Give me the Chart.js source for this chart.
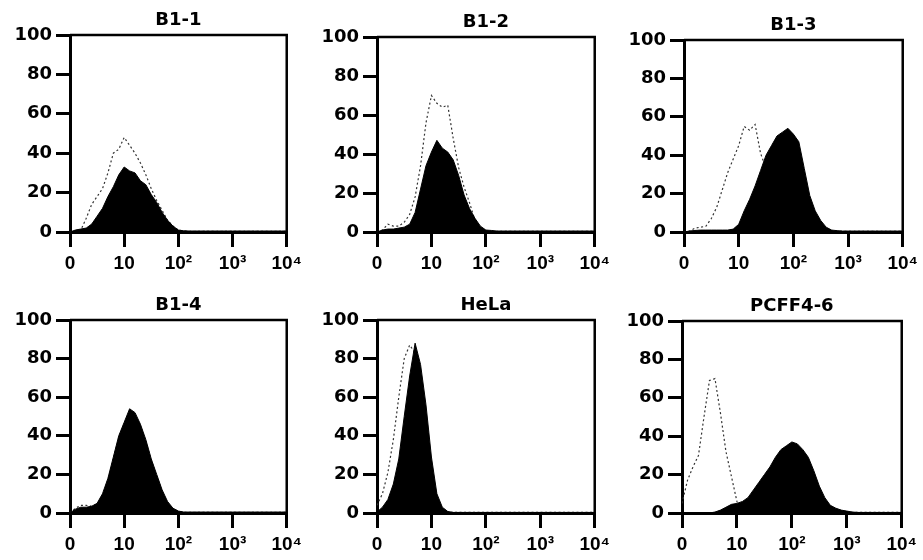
<!DOCTYPE html>
<html>
<head>
<meta charset="utf-8">
<script src="https://cdn.jsdelivr.net/npm/chart.js@4.4.0/dist/chart.umd.min.js"></script>
<style>
  body { margin: 0; background: #fff; }
  #wrap { position: relative; width: 923px; height: 560px; overflow: hidden; background: #fff; }
  #wrap canvas { position: absolute; }
</style>
</head>
<body>
<div id="wrap"></div>
<script>
// fluorescence intensity, in decades (0 = 10^0 ... 4 = 10^4)
const decades = [0, 0.1, 0.2, 0.3, 0.4, 0.5, 0.6, 0.7, 0.8, 0.9,
                 1, 1.1, 1.2, 1.3, 1.4, 1.5, 1.6, 1.7, 1.8, 1.9,
                 2, 2.1, 2.2, 2.3, 2.4, 2.5, 2.6, 2.7, 2.8, 2.9,
                 3, 3.1, 3.2, 3.3, 3.4, 3.5, 3.6, 3.7, 3.8, 3.9, 4];
const xTickLabels = ['0', '10', '10²', '10³', '10⁴'];
const titles = ['B1-1', 'B1-2', 'B1-3', 'B1-4', 'HeLa', 'PCFF4-6'];

// filled = stained cells, dotted = control
const b11Filled = [0, 1, 1.5, 2, 4, 8, 12, 18, 23, 29, 33, 31, 30, 26, 24, 19, 15, 10, 6, 3,
                   1, 0.6, 0.5, 0.5, 0.5, 0.5, 0.5, 0.5, 0.5, 0.5, 0.5, 0.5, 0.5, 0.5, 0.5, 0.5, 0.5, 0.5, 0.5, 0.5, 0.5];
const b11Dotted = [0, 0.5, 1, 7, 14, 18, 22, 30, 40, 42, 48, 44, 40, 35, 29, 22, 16, 11, 6, 3,
                   1, 0.5, 0.3, 0.3, 0.3, 0.3, 0.3, 0.3, 0.3, 0.3, 0.3, 0.3, 0.3, 0.3, 0.3, 0.3, 0.3, 0.3, 0.3, 0.3, 0.3];
const b12Filled = [0, 1, 1.5, 1.5, 2, 2.5, 4, 10, 22, 34, 41, 47, 43, 41, 37, 29, 19, 12, 7, 3,
                   1, 0.8, 0.5, 0.5, 0.5, 0.5, 0.5, 0.5, 0.5, 0.5, 0.5, 0.5, 0.5, 0.5, 0.5, 0.5, 0.5, 0.5, 0.5, 0.5, 0.5];
const b12Dotted = [0, 1, 4, 3, 3, 5, 9, 18, 34, 56, 70, 66, 64, 65, 48, 33, 23, 15, 6, 2,
                   0.5, 0.3, 0.3, 0.3, 0.3, 0.3, 0.3, 0.3, 0.3, 0.3, 0.3, 0.3, 0.3, 0.3, 0.3, 0.3, 0.3, 0.3, 0.3, 0.3, 0.3];
const b13Filled = [0, 0.5, 0.8, 1, 1, 1, 1, 1, 1, 1.5, 4, 11, 17, 24, 32, 40, 45, 50, 52, 54,
                   51, 47, 33, 19, 11, 6, 2.5, 1, 0.7, 0.5, 0.5, 0.5, 0.5, 0.5, 0.5, 0.5, 0.5, 0.5, 0.5, 0.5, 0.5];
const b13Dotted = [0, 0.5, 2, 2.5, 3, 7, 13, 22, 31, 38, 45, 55, 53, 56, 41, 33, 22, 14, 7, 3,
                   1, 0.3, 0.3, 0.3, 0.3, 0.3, 0.3, 0.3, 0.3, 0.3, 0.3, 0.3, 0.3, 0.3, 0.3, 0.3, 0.3, 0.3, 0.3, 0.3, 0.3];
const b14Filled = [0, 2, 3, 3, 3.5, 5, 10, 18, 29, 40, 47, 54, 52, 46, 38, 28, 20, 12, 6, 2.5,
                   1, 0.5, 0.5, 0.5, 0.5, 0.5, 0.5, 0.5, 0.5, 0.5, 0.5, 0.5, 0.5, 0.5, 0.5, 0.5, 0.5, 0.5, 0.5, 0.5, 0.5];
const b14Dotted = [0, 2.5, 4, 4, 3.5, 4.5, 9, 17, 28, 39, 46, 52, 50, 45, 37, 27, 19, 11, 5, 2,
                   0.8, 0.3, 0.3, 0.3, 0.3, 0.3, 0.3, 0.3, 0.3, 0.3, 0.3, 0.3, 0.3, 0.3, 0.3, 0.3, 0.3, 0.3, 0.3, 0.3, 0.3];
const helaFilled = [0.5, 3, 7, 15, 28, 50, 71, 88, 77, 56, 29, 10, 3, 0.8, 0.3, 0.3, 0.3, 0.3, 0.3, 0.3,
                    0.3, 0.3, 0.3, 0.3, 0.3, 0.3, 0.3, 0.3, 0.3, 0.3, 0.3, 0.3, 0.3, 0.3, 0.3, 0.3, 0.3, 0.3, 0.3, 0.3, 0.3];
const helaDotted = [4, 10, 21, 38, 60, 80, 87, 83, 70, 50, 25, 8, 2, 0.5, 0.3, 0.3, 0.3, 0.3, 0.3, 0.3,
                    0.3, 0.3, 0.3, 0.3, 0.3, 0.3, 0.3, 0.3, 0.3, 0.3, 0.3, 0.3, 0.3, 0.3, 0.3, 0.3, 0.3, 0.3, 0.3, 0.3, 0.3];
const pcffFilled = [0, 0, 0, 0, 0, 0, 0.5, 1.5, 3, 4.5, 5, 6, 8, 12, 16, 20, 24, 29, 33, 35,
                    37, 36, 33, 29, 22, 14, 8, 4, 2.5, 1.5, 1, 0.5, 0.3, 0.3, 0.3, 0.3, 0.3, 0.3, 0.3, 0.3, 0.3];
const pcffDotted = [5, 17, 24, 30, 50, 69, 70, 52, 32, 19, 6, 0.5, 0.3, 0.3, 0.3, 0.3, 0.3, 0.3, 0.3, 0.3,
                    0.3, 0.3, 0.3, 0.3, 0.3, 0.3, 0.3, 0.3, 0.3, 0.3, 0.3, 0.3, 0.3, 0.3, 0.3, 0.3, 0.3, 0.3, 0.3, 0.3, 0.3];

const filledSeries = [b11Filled, b12Filled, b13Filled, b14Filled, helaFilled, pcffFilled];
const dottedSeries = [b11Dotted, b12Dotted, b13Dotted, b14Dotted, helaDotted, pcffDotted];

// plot area of each panel on the page: left, top, right, bottom
const plotBoxes = [
    [70, 35, 287, 232], [377, 37, 595, 232], [684, 40, 903, 232],
    [70, 320, 287, 513], [377, 320, 595, 513], [682, 321, 902, 513]
];
const AXIS_W = 68, TITLE_H = 34, XAXIS_H = 45, RIGHT_PAD = 20;

// top and right edges of the box
const framePlugin = {
    id: 'frame',
    afterDatasetsDraw(chart) {
        const a = chart.chartArea, ctx = chart.ctx;
        ctx.save();
        ctx.strokeStyle = '#000';
        ctx.lineWidth = 2.5;
        ctx.beginPath();
        ctx.moveTo(a.left, a.top);
        ctx.lineTo(a.right, a.top);
        ctx.lineTo(a.right, a.bottom);
        ctx.stroke();
        ctx.restore();
    }
};

const xTickFont = { family: 'Liberation Sans', weight: 'bold', size: 19 };
const yTickFont = { family: 'DejaVu Sans', weight: 'bold', size: 18 };
const wrap = document.getElementById('wrap');

function toPoints(vals) {
    return decades.map((d, i) => ({ x: d, y: vals[i] }));
}

titles.forEach((title, k) => {
    const [l, t, r, b] = plotBoxes[k];
    const canvas = document.createElement('canvas');
    canvas.width = AXIS_W + (r - l) + RIGHT_PAD;
    canvas.height = TITLE_H + (b - t) + XAXIS_H;
    canvas.style.left = (l - AXIS_W) + 'px';
    canvas.style.top = (t - TITLE_H) + 'px';
    wrap.appendChild(canvas);

    new Chart(canvas.getContext('2d'), {
        type: 'line',
        data: {
            datasets: [{
                label: 'control',
                data: toPoints(dottedSeries[k]),
                borderColor: '#333',
                borderWidth: 1.2,
                borderDash: [2, 2.5],
                fill: false,
                pointRadius: 0,
                tension: 0,
                order: 2
            }, {
                label: title,
                data: toPoints(filledSeries[k]),
                borderColor: '#000',
                backgroundColor: '#000',
                borderWidth: 1,
                fill: 'origin',
                pointRadius: 0,
                tension: 0,
                order: 1
            }]
        },
        options: {
            responsive: false,
            animation: false,
            layout: { padding: { left: 0, right: RIGHT_PAD, top: 0, bottom: 0 } },
            plugins: {
                legend: { display: false },
                tooltip: { enabled: false },
                title: {
                    display: true,
                    text: title,
                    fullSize: false,
                    color: '#000',
                    font: { family: 'DejaVu Sans', weight: 'bold', size: 18 },
                    padding: { top: 9, bottom: 3.4 }
                }
            },
            scales: {
                x: {
                    type: 'linear',
                    min: 0,
                    max: 4,
                    afterFit(scale) { scale.height = XAXIS_H; },
                    ticks: {
                        stepSize: 1,
                        color: '#000',
                        font: xTickFont,
                        padding: 5,
                        maxRotation: 0,
                        callback: (v) => xTickLabels[v]
                    },
                    grid: { drawOnChartArea: false, tickLength: 15, lineWidth: 3, color: '#000' },
                    border: { display: true, width: 3, color: '#000' }
                },
                y: {
                    min: 0,
                    max: 100,
                    afterFit(scale) { scale.width = AXIS_W; },
                    ticks: { stepSize: 20, color: '#000', font: yTickFont, padding: 4 },
                    grid: { drawOnChartArea: false, tickLength: 14, lineWidth: 3, color: '#000' },
                    border: { display: true, width: 3, color: '#000' }
                }
            }
        },
        plugins: [framePlugin]
    });
});
</script>
</body>
</html>
